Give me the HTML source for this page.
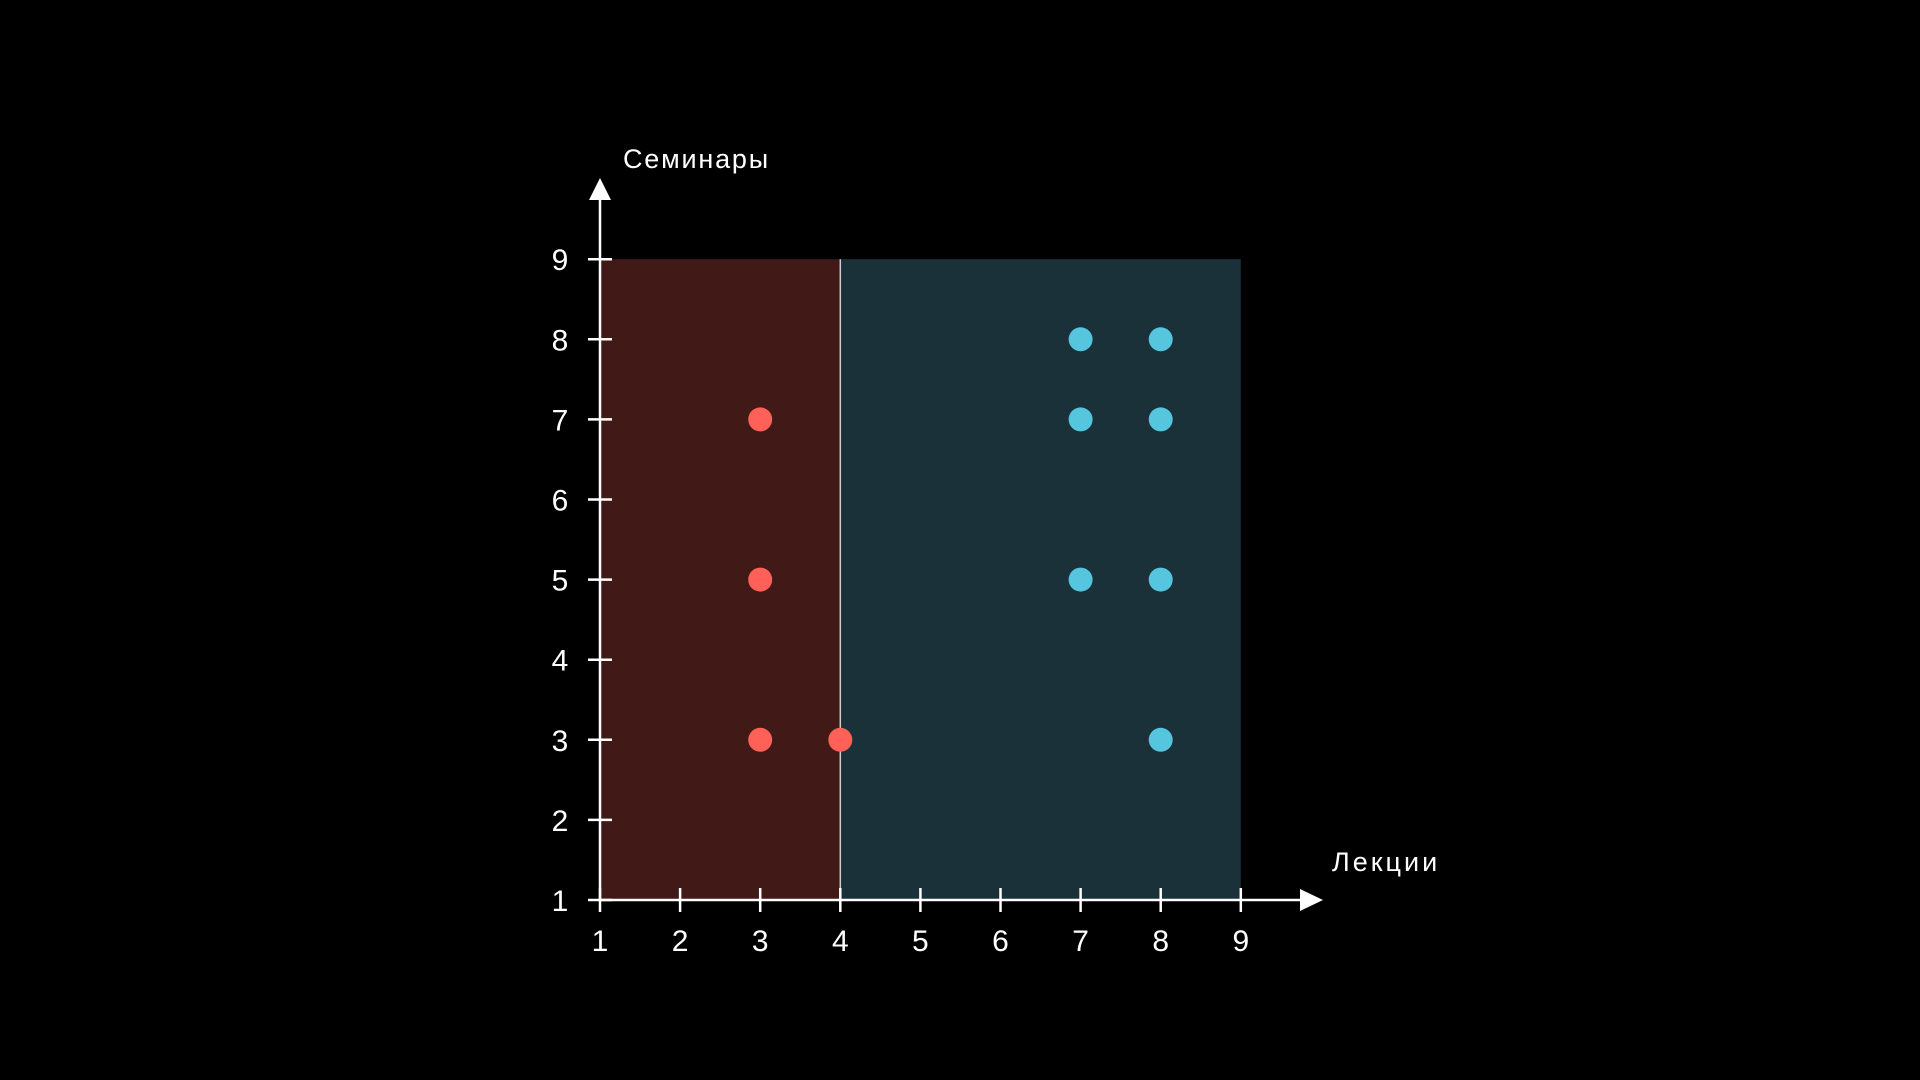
<!DOCTYPE html>
<html><head><meta charset="utf-8"><style>
html,body{margin:0;padding:0;background:#000;width:1920px;height:1080px;overflow:hidden}
svg{display:block}
text{font-family:"Liberation Sans","DejaVu Sans",sans-serif;fill:#fff}
</style></head><body>
<svg id="chart" width="1920" height="1080" viewBox="0 0 1920 1080" xmlns="http://www.w3.org/2000/svg">
<g id="regions"></g><g id="axes"></g><g id="points"></g>
<text x="623" y="168" font-size="27" letter-spacing="1.8">Семинары</text>
<text x="1332" y="871" font-size="27" letter-spacing="3">Лекции</text>
</svg>
<script>
const xTicks=[1,2,3,4,5,6,7,8,9];
const yTicks=[1,2,3,4,5,6,7,8,9];
const redX=[3,3,3,4];
const redY=[7,5,3,3];
const blueX=[7,8,7,8,7,8,8];
const blueY=[8,8,7,7,5,5,3];
const boundary=4;
const NS='http://www.w3.org/2000/svg';
const sx=v=>600+(v-1)*80.1;
const sy=v=>900-(v-1)*80.1;
function mk(tag,attrs,parent){const e=document.createElementNS(NS,tag);for(const k in attrs)e.setAttribute(k,attrs[k]);parent.appendChild(e);return e;}
const reg=document.getElementById('regions'),ax=document.getElementById('axes'),pts=document.getElementById('points');
let r=mk('rect',{x:sx(1),y:sy(9),width:sx(boundary)-sx(1),height:sy(1)-sy(9),fill:'#411917'},reg);


r=mk('rect',{x:sx(boundary),y:sy(9),width:sx(9)-sx(boundary),height:sy(1)-sy(9),fill:'#1a313a'},reg);


let l=mk('line',{x1:sx(boundary),x2:sx(boundary),y1:sy(9),y2:sy(1),stroke:'#cfcfcf','stroke-width':1.5},reg);


l=mk('line',{x1:sx(1),x2:1302,y1:sy(1),y2:sy(1),stroke:'#fff','stroke-width':2.5},ax);


l=mk('line',{x1:sx(1),x2:sx(1),y1:sy(1),y2:198,stroke:'#fff','stroke-width':2.5},ax);


let p=mk('polygon',{points:'1300,889 1323,900 1300,911',fill:'#fff'},ax);


p=mk('polygon',{points:'589,200 600,178 611,200',fill:'#fff'},ax);


xTicks.forEach(v=>{
 const t=mk('line',{x1:sx(v),x2:sx(v),y1:888,y2:912,stroke:'#fff','stroke-width':2.5},ax);
 
 
 const tx=mk('text',{x:sx(v),y:951,'font-size':30,'text-anchor':'middle'},ax);tx.textContent=v;
 
 
});
yTicks.forEach(v=>{
 const t=mk('line',{x1:588,x2:612,y1:sy(v),y2:sy(v),stroke:'#fff','stroke-width':2.5},ax);
 
 
 const tx=mk('text',{x:560,y:sy(v)+11,'font-size':30,'text-anchor':'middle'},ax);tx.textContent=v;
 
 
});
redX.forEach((v,i)=>{
 const c=mk('circle',{cx:sx(v),cy:sy(redY[i]),r:12,fill:'#ff6159'},pts);
 
 
});
blueX.forEach((v,i)=>{
 const c=mk('circle',{cx:sx(v),cy:sy(blueY[i]),r:12,fill:'#56c6df'},pts);
 
 
});
</script>
</body></html>
